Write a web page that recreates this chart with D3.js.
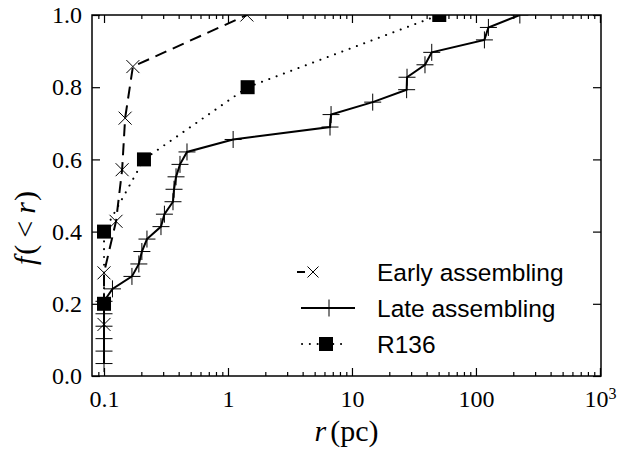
<!DOCTYPE html>
<html>
<head>
<meta charset="utf-8">
<script src="https://cdn.jsdelivr.net/npm/d3@7"></script>
<style>
  body { margin: 0; background: #fff; }
  svg { display: block; }
</style>
</head>
<body>
<div id="chart"></div>
<script>
// data: cumulative fraction f(<r) vs distance r (pc)
var earlyR = [0.1, 0.1, 0.125, 0.14, 0.148, 0.171, 1.42];
var earlyF = [1, 2, 3, 4, 5, 6, 7].map(function (i) { return i / 7; });

var lateR = [0.1, 0.1, 0.1, 0.1, 0.1, 0.1, 0.117, 0.168, 0.191, 0.202,
             0.222, 0.288, 0.307, 0.36, 0.367, 0.381, 0.41, 0.467, 1.10, 6.65,
             6.78, 14.7, 27.6, 27.8, 38.8, 44, 117, 126, 226];
var lateF = lateR.map(function (d, i) { return (i + 1) / 29; });

var r136R = [0.1, 0.1, 0.21, 1.44, 50.6];
var r136F = [0.2, 0.4, 0.6, 0.8, 1.0];

var xTicks = [0.1, 1, 10, 100, 1000];
var yTicks = [0, 0.2, 0.4, 0.6, 0.8, 1.0];

var W = 620, H = 450;
var mLeft = 92, mRight = 601, mTop = 15, mBottom = 376;
var serif = "'Liberation Serif', 'DejaVu Serif', serif";
var sans = "'Liberation Sans', Arial, sans-serif";

var svg = d3.select("#chart").append("svg")
    .attr("width", W)
    .attr("height", H);

// Scales
var x = d3.scaleLog().domain([0.08, 1020]).range([mLeft, mRight]);
var y = d3.scaleLinear().domain([0, 1]).range([mBottom, mTop]);

// minor ticks 2..9 in each decade
var minor = [];
[0.01, 0.1, 1, 10, 100].forEach(function (d) {
    for (var k = 2; k <= 9; k++) {
        var v = d * k;
        if (v > x.domain()[0] && v < x.domain()[1]) minor.push(v);
    }
});

function styleAxis(g) {
    g.select(".domain").remove();
    g.selectAll(".tick line").attr("stroke", "#000").attr("stroke-width", 1.2);
    g.selectAll("text").attr("font-family", serif).attr("font-size", 24).attr("fill", "#000");
}

// bottom axis
var xAxis = svg.append("g")
    .attr("transform", "translate(0," + mBottom + ")")
    .call(d3.axisBottom(x).tickValues(xTicks).tickSize(-8).tickPadding(14)
        .tickFormat(function (d) { return d3.format("~g")(d); }))
    .call(styleAxis);
xAxis.selectAll(".tick text").filter(function (d) { return d === 1000; })
    .text("10")
    .append("tspan").attr("dy", "-0.5em").attr("font-size", 16).text("3");

svg.append("g")
    .attr("transform", "translate(0," + mBottom + ")")
    .call(d3.axisBottom(x).tickValues(minor).tickSize(-4).tickFormat(""))
    .call(styleAxis);

// top axis
svg.append("g")
    .attr("transform", "translate(0," + mTop + ")")
    .call(d3.axisTop(x).tickValues(xTicks).tickSize(-8).tickFormat(""))
    .call(styleAxis);
svg.append("g")
    .attr("transform", "translate(0," + mTop + ")")
    .call(d3.axisTop(x).tickValues(minor).tickSize(-4).tickFormat(""))
    .call(styleAxis);

// left and right axes
svg.append("g")
    .attr("transform", "translate(" + mLeft + ",0)")
    .call(d3.axisLeft(y).tickValues(yTicks).tickSize(-8).tickPadding(10)
        .tickFormat(d3.format(".1f")))
    .call(styleAxis);
svg.append("g")
    .attr("transform", "translate(" + mRight + ",0)")
    .call(d3.axisRight(y).tickValues(yTicks).tickSize(-8).tickFormat(""))
    .call(styleAxis);

// clip to the plot box
svg.append("clipPath").attr("id", "plotclip")
    .append("rect")
    .attr("x", mLeft).attr("y", mTop)
    .attr("width", mRight - mLeft).attr("height", mBottom - mTop);

var plot = svg.append("g").attr("clip-path", "url(#plotclip)");

var line = d3.line()
    .x(function (d) { return x(d[0]); })
    .y(function (d) { return y(d[1]); });

function pairs(rs, fs) { return rs.map(function (r, i) { return [r, fs[i]]; }); }

var early = pairs(earlyR, earlyF);
var late = pairs(lateR, lateF);
var r136 = pairs(r136R, r136F);

var crossPath = "M-6.5,-6.5L6.5,6.5M-6.5,6.5L6.5,-6.5";
var plusPath = "M-8.5,0L8.5,0M0,-8.5L0,8.5";

// Early assembling
plot.append("path").datum(early)
    .attr("d", line)
    .attr("fill", "none").attr("stroke", "#000").attr("stroke-width", 2)
    .attr("stroke-dasharray", "12,7");
plot.selectAll(".early").data(early).enter().append("path")
    .attr("class", "early")
    .attr("transform", function (d) { return "translate(" + x(d[0]) + "," + y(d[1]) + ")"; })
    .attr("d", crossPath)
    .attr("fill", "none").attr("stroke", "#000").attr("stroke-width", 1);

// Late assembling
plot.append("path").datum(late)
    .attr("d", line)
    .attr("fill", "none").attr("stroke", "#000").attr("stroke-width", 2);
plot.selectAll(".late").data(late).enter().append("path")
    .attr("class", "late")
    .attr("transform", function (d) { return "translate(" + x(d[0]) + "," + y(d[1]) + ")"; })
    .attr("d", plusPath)
    .attr("fill", "none").attr("stroke", "#000").attr("stroke-width", 1);

// R136
plot.append("path").datum(r136)
    .attr("d", line)
    .attr("fill", "none").attr("stroke", "#000").attr("stroke-width", 2)
    .attr("stroke-linecap", "round")
    .attr("stroke-dasharray", "0.1,7.7");
plot.selectAll(".r136").data(r136).enter().append("rect")
    .attr("class", "r136")
    .attr("x", function (d) { return x(d[0]) - 7; })
    .attr("y", function (d) { return y(d[1]) - 7; })
    .attr("width", 14).attr("height", 14)
    .attr("fill", "#000");

// frame
svg.append("rect")
    .attr("x", mLeft).attr("y", mTop)
    .attr("width", mRight - mLeft).attr("height", mBottom - mTop)
    .attr("fill", "none").attr("stroke", "#000").attr("stroke-width", 1.5);

// axis labels
var xl = svg.append("text")
    .attr("x", (mLeft + mRight) / 2).attr("y", 441)
    .attr("text-anchor", "middle")
    .attr("font-family", serif).attr("font-size", 30);
xl.append("tspan").attr("font-style", "italic").text("r");
xl.append("tspan").attr("dx", 4).text("(pc)");

var yl = svg.append("text")
    .attr("transform", "translate(35,228) rotate(-90)")
    .attr("text-anchor", "middle")
    .attr("font-family", serif).attr("font-size", 30);
yl.append("tspan").attr("font-style", "italic").text("f");
yl.append("tspan").attr("dx", 2).text("(");
yl.append("tspan").attr("dx", 7).text("<");
yl.append("tspan").attr("dx", 7).attr("font-style", "italic").text("r");
yl.append("tspan").attr("dx", 1).text(")");

// legend
var legend = svg.append("g");
var rowY = [272, 308, 344];
var names = ["Early assembling", "Late assembling", "R136"];

legend.append("line")
    .attr("x1", 297).attr("x2", 305).attr("y1", rowY[0]).attr("y2", rowY[0])
    .attr("stroke", "#000").attr("stroke-width", 2);
legend.append("path")
    .attr("transform", "translate(313," + rowY[0] + ")")
    .attr("d", "M-5.5,-5.5L5.5,5.5M-5.5,5.5L5.5,-5.5")
    .attr("fill", "none").attr("stroke", "#000").attr("stroke-width", 1);

legend.append("line")
    .attr("x1", 301).attr("x2", 355).attr("y1", rowY[1]).attr("y2", rowY[1])
    .attr("stroke", "#000").attr("stroke-width", 2);
legend.append("path")
    .attr("transform", "translate(329," + rowY[1] + ")")
    .attr("d", plusPath)
    .attr("fill", "none").attr("stroke", "#000").attr("stroke-width", 1);

legend.append("line")
    .attr("x1", 302).attr("x2", 348).attr("y1", rowY[2]).attr("y2", rowY[2])
    .attr("stroke", "#000").attr("stroke-width", 2)
    .attr("stroke-linecap", "round")
    .attr("stroke-dasharray", "0.1,7.7");
legend.append("rect")
    .attr("x", 319).attr("y", rowY[2] - 7)
    .attr("width", 14).attr("height", 14).attr("fill", "#000");

legend.selectAll(".lab").data(names).enter().append("text")
    .attr("class", "lab")
    .attr("x", 377)
    .attr("y", function (d, i) { return rowY[i]; })
    .attr("dy", "0.36em")
    .attr("font-family", sans).attr("font-size", 24.5)
    .text(function (d) { return d; });
</script>
</body>
</html>
